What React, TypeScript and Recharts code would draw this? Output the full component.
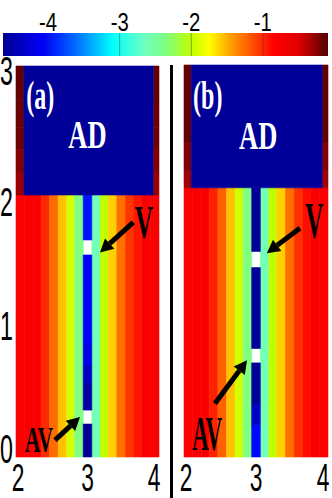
import React from 'react';
import { ComposedChart, XAxis, YAxis, ReferenceArea, ReferenceLine, ReferenceDot, Scatter } from 'recharts';

// colour bar (log10 scale)
const CBAR_MIN = -4.63;
const CBAR_MAX = -0.09;
const cbarTicks = [-4, -3, -2, -1];
const cmapStops: [number, string][] = [
  [-4.63, '#000090'],
  [-4.05, '#0000ff'],
  [-3.6, '#0070ff'],
  [-3.1, '#00ffff'],
  [-2.65, '#70ffc0'],
  [-2.35, '#80ff80'],
  [-2.0, '#c0ff00'],
  [-1.75, '#ffff00'],
  [-1.45, '#ffa000'],
  [-1.15, '#ff5000'],
  [-0.85, '#ff0000'],
  [-0.5, '#e00000'],
  [-0.09, '#500000'],
];

// grid columns, x from 2 to 4
const colEdges = [2, 2.12, 2.24, 2.35, 2.47, 2.59, 2.71, 2.82, 2.94, 3.06, 3.18, 3.29, 3.41, 3.53, 3.65, 3.76, 3.88, 4];
const xTicks = [2, 3, 4];
const yTicks = [0, 1, 2, 3];

// column values below the AD block (centre column given separately)
const colsA = [-0.8, -0.8, -0.8, -1.01, -1.25, -1.55, -1.92, -2.35, null, -2.6, -2.0, -1.6, -1.27, -1.05, -0.93, -0.8, -0.8];
const colsB = [-0.8, -0.8, -0.8, -0.97, -1.21, -1.55, -1.93, -2.35, null, -2.6, -2.0, -1.6, -1.27, -1.03, -0.9, -0.8, -0.8];

// centre column (x = 3) pieces: [from, to, value]; null = empty site
const centreA: [number, number, number | null][] = [
  [0, 0.253, -4.6],
  [0.253, 0.36, null],
  [0.36, 0.568, -4.52],
  [0.568, 0.706, -4.35],
  [0.706, 0.875, -4.18],
  [0.875, 1.55, -4.05],
  [1.55, 1.665, null],
  [1.665, 2.01, -3.97],
];
const centreB: [number, number, number | null][] = [
  [0, 0.246, -4.02],
  [0.246, 0.4, -4.33],
  [0.4, 0.72, -4.57],
  [0.72, 0.83, null],
  [0.83, 1.45, -4.58],
  [1.45, 1.573, null],
  [1.573, 2.06, -4.59],
];

// AD block: [x0, x1, y0, y1, value]
const adA: [number, number, number, number, number] = [2.11, 3.92, 2.01, 3, -4.59];
const adB: [number, number, number, number, number] = [2.1, 3.92, 2.06, 3, -4.59];

// side strips next to AD block: [from, to, value]
const edgeA: [number, number, number][] = [
  [2.01, 2.18, -0.3],
  [2.18, 2.36, -0.24],
  [2.36, 2.53, -0.18],
  [2.53, 2.74, -0.17],
  [2.74, 3, -0.15],
];
const edgeB: [number, number, number][] = [
  [2.06, 2.19, -0.33],
  [2.19, 2.41, -0.24],
  [2.41, 3, -0.15],
];

type Note = { text: string; x: number; y: number; size: number; sx: number; color: string };
type Arr = { from: [number, number]; to: [number, number] };

const notesA: Note[] = [
  { text: '(a)', x: 2.34, y: 2.67, size: 40, sx: 0.6, color: '#fff' },
  { text: 'AD', x: 3.0, y: 2.37, size: 39, sx: 0.68, color: '#fff' },
  { text: 'V', x: 3.79, y: 1.68, size: 46, sx: 0.55, color: '#000' },
  { text: 'AV', x: 2.32, y: 0.04, size: 36, sx: 0.6, color: '#000' },
];
const notesB: Note[] = [
  { text: '(b)', x: 2.33, y: 2.66, size: 40, sx: 0.6, color: '#fff' },
  { text: 'AD', x: 3.03, y: 2.36, size: 39, sx: 0.68, color: '#fff' },
  { text: 'V', x: 3.81, y: 1.68, size: 50, sx: 0.5, color: '#000' },
  { text: 'AV', x: 2.32, y: 0.054, size: 48, sx: 0.48, color: '#000' },
];
const arrowsA: Arr[] = [
  { from: [3.64, 1.8], to: [3.175, 1.57] },
  { from: [2.545, 0.13], to: [2.895, 0.307] },
];
const arrowsB: Arr[] = [
  { from: [3.61, 1.75], to: [3.15, 1.56] },
  { from: [2.43, 0.41], to: [2.875, 0.74] },
];

const hex = (h: string) => [1, 3, 5].map((i) => parseInt(h.slice(i, i + 2), 16));

const colorFor = (v: number) => {
  if (v <= cmapStops[0][0]) return cmapStops[0][1];
  for (let i = 1; i < cmapStops.length; i++) {
    const [v1, c1] = cmapStops[i];
    if (v <= v1) {
      const [v0, c0] = cmapStops[i - 1];
      const t = (v - v0) / (v1 - v0);
      const a = hex(c0);
      const b = hex(c1);
      const rgb = a.map((k, j) => Math.round(k + (b[j] - k) * t));
      return `rgb(${rgb.join(',')})`;
    }
  }
  return cmapStops[cmapStops.length - 1][1];
};

const sans = "'Liberation Sans', Arial, sans-serif";
const serif = "'Liberation Serif', 'Times New Roman', serif";

const Tick = (p: any) => {
  const { x, y, payload, dx = 0, dy = 0, anchor = 'middle', size = 40, sx = 0.6 } = p;
  return (
    <text
      transform={`translate(${x + dx},${y + dy}) scale(${sx},1)`}
      textAnchor={anchor}
      fontSize={size}
      fontFamily={sans}
      fill="#000"
    >
      {payload.value}
    </text>
  );
};

// labels at the ends of an axis sit a little inward, as in the original
const xNudge = (v: number) => (v === 4 ? -5 : v === 2 ? 2 : 0);
const yNudge = (v: number) => (v === 0 ? 6 : v === 1 ? 13 : v === 2 ? 20 : 19);

const ArrowShape = (p: any) => {
  const { x1, y1, x2, y2 } = p;
  const ang = Math.atan2(y2 - y1, x2 - x1);
  const head = 13;
  const w = 7;
  const bx = x2 - head * Math.cos(ang);
  const by = y2 - head * Math.sin(ang);
  const nx = -Math.sin(ang);
  const ny = Math.cos(ang);
  return (
    <g>
      <line x1={x1} y1={y1} x2={bx} y2={by} stroke="#000" strokeWidth={5} />
      <polygon points={`${x2},${y2} ${bx + nx * w},${by + ny * w} ${bx - nx * w},${by - ny * w}`} fill="#000" />
    </g>
  );
};

const cell = (key: string, x1: number, x2: number, y1: number, y2: number, v: number) => {
  const c = colorFor(v);
  return (
    <ReferenceArea
      key={key}
      x1={x1}
      x2={x2}
      y1={y1}
      y2={y2}
      fill={c}
      fillOpacity={1}
      stroke={c}
      strokeWidth={0.6}
    />
  );
};

type PanelProps = {
  width: number;
  height: number;
  margin: { top: number; right: number; bottom: number; left: number };
  cols: (number | null)[];
  centre: [number, number, number | null][];
  ad: [number, number, number, number, number];
  edges: [number, number, number][];
  notes: Note[];
  arrows: Arr[];
  showY: boolean;
};

const Panel = ({ width, height, margin, cols, centre, ad, edges, notes, arrows, showY }: PanelProps) => {
  const centres = cols.map((_, i) => ({ x: (colEdges[i] + colEdges[i + 1]) / 2, y: 0 }));
  const adBottom = ad[2];
  return (
    <ComposedChart width={width} height={height} margin={margin}>
      <XAxis
        type="number"
        dataKey="x"
        domain={[2, 4]}
        ticks={xTicks}
        interval={0}
        axisLine={false}
        tickLine={false}
        height={36}
        tick={(p: any) => <Tick {...p} dx={xNudge(p.payload.value)} dy={26} size={38} sx={0.6} />}
      />
      <YAxis
        type="number"
        dataKey="y"
        domain={[0, 3]}
        ticks={yTicks}
        interval={0}
        axisLine={false}
        tickLine={false}
        width={16}
        hide={!showY}
        tick={(p: any) => (
          <Tick {...p} dx={5} dy={yNudge(p.payload.value)} anchor="end" size={40} sx={0.58} />
        )}
      />
      {cols.map((v, i) =>
        v === null ? null : cell(`c${i}`, colEdges[i], colEdges[i + 1], 0, adBottom, v)
      )}
      {centre.map(([y0, y1, v], i) =>
        v === null ? null : cell(`m${i}`, colEdges[8], colEdges[9], y0, y1, v)
      )}
      {edges.map(([y0, y1, v], i) => cell(`l${i}`, 2, ad[0], y0, y1, v))}
      {edges.map(([y0, y1, v], i) => cell(`r${i}`, ad[1], 4, y0, y1, v))}
      {cell('ad', ad[0], ad[1], ad[2], ad[3], ad[4])}
      {arrows.map((a, i) => (
        <ReferenceLine
          key={`a${i}`}
          segment={[{ x: a.from[0], y: a.from[1] }, { x: a.to[0], y: a.to[1] }]}
          shape={ArrowShape}
        />
      ))}
      {notes.map((n, i) => (
        <ReferenceDot
          key={`n${i}`}
          x={n.x}
          y={n.y}
          r={0}
          shape={(p: any) => (
            <text
              transform={`translate(${p.cx},${p.cy}) scale(${n.sx},1)`}
              textAnchor="middle"
              fontSize={n.size}
              fontWeight="bold"
              fontFamily={serif}
              fill={n.color}
            >
              {n.text}
            </text>
          )}
        />
      ))}
      <Scatter data={centres} fill="none" isAnimationActive={false} shape={() => <g />} />
    </ComposedChart>
  );
};

const ColourBar = () => (
  <ComposedChart width={332} height={60} margin={{ top: 3, right: 4, bottom: 4, left: 3 }}>
    <defs>
      <linearGradient id="cbar" x1="0" y1="0" x2="1" y2="0">
        {cmapStops.map(([v, c]) => (
          <stop key={v} offset={(v - CBAR_MIN) / (CBAR_MAX - CBAR_MIN)} stopColor={c} />
        ))}
      </linearGradient>
    </defs>
    <XAxis
      type="number"
      dataKey="x"
      orientation="top"
      domain={[CBAR_MIN, CBAR_MAX]}
      ticks={cbarTicks}
      interval={0}
      axisLine={false}
      tickLine={false}
      height={30}
      tick={(p: any) => <Tick {...p} dy={6} size={26} sx={0.78} />}
    />
    <YAxis type="number" dataKey="y" domain={[0, 1]} hide />
    <ReferenceArea x1={CBAR_MIN} x2={CBAR_MAX} y1={0} y2={1} fill="url(#cbar)" fillOpacity={1} />
    {cbarTicks.map((t) => (
      <ReferenceLine key={t} x={t} stroke="#333" strokeOpacity={0.45} strokeWidth={1} />
    ))}
    <Scatter data={cbarTicks.map((t) => ({ x: t, y: 0.5 }))} fill="none" isAnimationActive={false} shape={() => <g />} />
  </ComposedChart>
);

export default function App() {
  return (
    <div style={{ position: 'absolute', left: 0, top: 0, width: 332, height: 498, background: '#fff', overflow: 'hidden' }}>
      <div style={{ position: 'absolute', left: 0, top: 36 }}>
        <Panel
          width={170}
          height={462}
          margin={{ top: 30, right: 11, bottom: 5, left: 0 }}
          cols={colsA}
          centre={centreA}
          ad={adA}
          edges={edgeA}
          notes={notesA}
          arrows={arrowsA}
          showY
        />
      </div>
      <div style={{ position: 'absolute', left: 170, top: 36 }}>
        <Panel
          width={162}
          height={462}
          margin={{ top: 29, right: 4, bottom: 5, left: 14 }}
          cols={colsB}
          centre={centreB}
          ad={adB}
          edges={edgeB}
          notes={notesB}
          arrows={arrowsB}
          showY={false}
        />
      </div>
      <div style={{ position: 'absolute', left: 170, top: 65, width: 3, height: 433, background: '#000' }} />
      <div style={{ position: 'absolute', left: 0, top: 0 }}>
        <ColourBar />
      </div>
    </div>
  );
}
